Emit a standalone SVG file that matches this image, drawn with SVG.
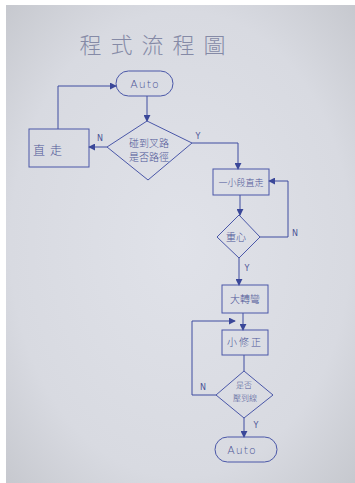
<svg xmlns="http://www.w3.org/2000/svg" width="355" height="483" viewBox="0 0 355 483">
<defs>
<radialGradient id="paper" cx="0.5" cy="0.5" r="0.75">
<stop offset="0" stop-color="#e0e2e9"/>
<stop offset="0.65" stop-color="#d8dae1"/>
<stop offset="1" stop-color="#c3c5cb"/>
</radialGradient>
<marker id="ah" viewBox="0 0 8 8" refX="7" refY="4" markerWidth="7" markerHeight="7" orient="auto" markerUnits="userSpaceOnUse">
<path d="M0,0 L8,4 L0,8 z" fill="#3a4799"/>
</marker>
<style>
.s{fill:none;stroke:#4a57a8;stroke-width:1}
.c{fill:none;stroke:#3f4ca0;stroke-width:1}
.t{font-family:"Noto Sans CJK TC","Noto Sans CJK SC",sans-serif;fill:#4c5596;text-anchor:middle;font-weight:300}
.a{font-family:"DejaVu Sans",sans-serif;fill:#4c5596;text-anchor:middle;font-size:11px;letter-spacing:1px;font-weight:300}
.l{font-family:"DejaVu Sans",sans-serif;fill:#4c5596;font-size:8px;text-anchor:middle}
</style>
</defs>
<rect width="355" height="483" fill="#ffffff"/>
<rect x="6" y="5" width="349" height="478" fill="url(#paper)"/>
<text x="157" y="53" class="t" style="font-size:22px;fill:#858aa6;letter-spacing:9px;font-weight:200">程式流程圖</text>

<g id="connectors">
<path class="c" d="M147,96 V121" marker-end="url(#ah)"/>
<path class="c" d="M107,147 H89" marker-end="url(#ah)"/>
<path class="c" d="M58,129 V86 H116" marker-end="url(#ah)"/>
<path class="c" d="M192,143 H238 V169" marker-end="url(#ah)"/>
<path class="c" d="M240,195 V215" marker-end="url(#ah)"/>
<path class="c" d="M260,237 H288 V181 H269" marker-end="url(#ah)"/>
<path class="c" d="M239,258 V285" marker-end="url(#ah)"/>
<path class="c" d="M243,313 V330" marker-end="url(#ah)"/>
<path class="c" d="M244,355 V371"/>
<path class="c" d="M216,395 H192 V321 H235" marker-end="url(#ah)"/>
<path class="c" d="M244,418 V437" marker-end="url(#ah)"/>
<text x="100" y="141" class="l">N</text>
<text x="198" y="139" class="l">Y</text>
<text x="295" y="236" class="l">N</text>
<text x="247" y="271" class="l">Y</text>
<text x="203" y="390" class="l">N</text>
<text x="256" y="428" class="l">Y</text>
</g>

<g id="auto-start">
<rect class="s" x="116" y="71" width="57" height="25" rx="12.5"/>
<text x="145" y="88" class="a">Auto</text>
</g>
<g id="decision-fork">
<polygon class="s" points="147,121 192,143 148,180 107,147"/>
<text x="149" y="147" class="t" style="font-size:10px">碰到叉路</text>
<text x="149" y="161" class="t" style="font-size:10px">是否路徑</text>
</g>
<g id="straight">
<rect class="s" x="29" y="129" width="60" height="38"/>
<text x="50" y="155" class="t" style="font-size:12px;letter-spacing:5px">直走</text>
</g>
<g id="short-straight">
<rect class="s" x="213" y="169" width="56" height="26"/>
<text x="241" y="186" class="t" style="font-size:9px">一小段直走</text>
</g>
<g id="center-check">
<polygon class="s" points="239,215 260,237 239,258 217,237"/>
<text x="236" y="241" class="t" style="font-size:10px">重心</text>
</g>
<g id="big-turn">
<rect class="s" x="222" y="285" width="46" height="28"/>
<text x="245" y="303" class="t" style="font-size:10px">大轉彎</text>
</g>
<g id="small-fix">
<rect class="s" x="222" y="330" width="46" height="25"/>
<text x="245" y="346" class="t" style="font-size:10px;letter-spacing:2px">小修正</text>
</g>
<g id="line-check">
<polygon class="s" points="244,371 273,395 244,418 216,395"/>
<text x="244" y="388" class="t" style="font-size:8px">是否</text>
<text x="245" y="401" class="t" style="font-size:8px">壓到線</text>
</g>
<g id="auto-end">
<rect class="s" x="215" y="437" width="62" height="25" rx="12.5"/>
<text x="242" y="454" class="a">Auto</text>
</g>
</svg>
